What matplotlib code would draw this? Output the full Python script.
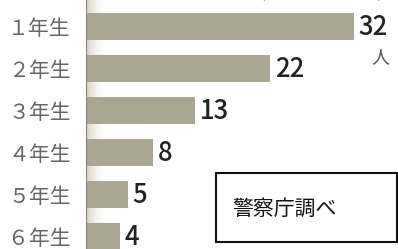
import numpy as np
import matplotlib.pyplot as plt

plt.rcParams['font.family'] = ['Noto Sans CJK JP', 'DejaVu Sans']

# 学年別の人数
grades = ['１年生', '２年生', '３年生', '４年生', '５年生', '６年生']
counts = [32, 22, 13, 8, 5, 4]
note = '警察庁調べ'
period = '（2019年上半期）'

W, H = 398, 249
fig = plt.figure(figsize=(W / 100, H / 100), dpi=100)
ax = fig.add_axes([86 / W, 0, (W - 86) / W, 1])

px_per_unit = 8.375
row = 42.0
xmax = (W - 86) / px_per_unit
ylo, yhi = (H - 26.5) / row, -26.5 / row

# 軸の右側のぼかし（ベージュ→白）
fade = np.linspace(1, 0, 64) ** 2
rgba = np.zeros((2, 64, 4))
rgba[..., 0] = 0.80
rgba[..., 1] = 0.78
rgba[..., 2] = 0.68
rgba[..., 3] = fade * 0.8
ax.imshow(rgba, extent=(0, 2.6, ylo, yhi), aspect='auto', zorder=1)
ax.set_xlim(0, xmax)
ax.set_ylim(ylo, yhi)

ys = list(range(len(grades)))
ax.barh(ys, counts, height=0.66, color='#aaa692', zorder=2)

# 数値ラベル
for y, v in zip(ys, counts):
    ax.text(v + 0.55, y + 0.02, str(v), ha='left', va='center',
            fontsize=18.5, color='#222222', fontweight='medium')
ax.text(counts[0] + 3.2, 0.72, '人', ha='center', va='center',
        fontsize=13, color='#555555')

# 軸線
ax.axvline(0, color='#808080', lw=1.5, zorder=3)

ax.set_yticks(ys)
ax.set_yticklabels(grades, fontsize=15, color='#666666')
ax.tick_params(axis='y', length=0, pad=11)
ax.set_xticks([])
for s in ax.spines.values():
    s.set_visible(False)

# 上部の見切れた注記
fig.text(395 / W, 1 + 6 / H, period, ha='right', va='center',
         fontsize=13, color='#666666')

# 出典の枠
fig.text(285 / W, 1 - 209 / H, note, ha='center', va='center',
         fontsize=15, color='#111111')
box = plt.Rectangle((216 / W, 1 - 242 / H), (397 - 216) / W, (242 - 173) / H,
                    transform=fig.transFigure, fill=False, ec='#111111', lw=1.5)
fig.add_artist(box)

fig.savefig('out.png', dpi=100)
